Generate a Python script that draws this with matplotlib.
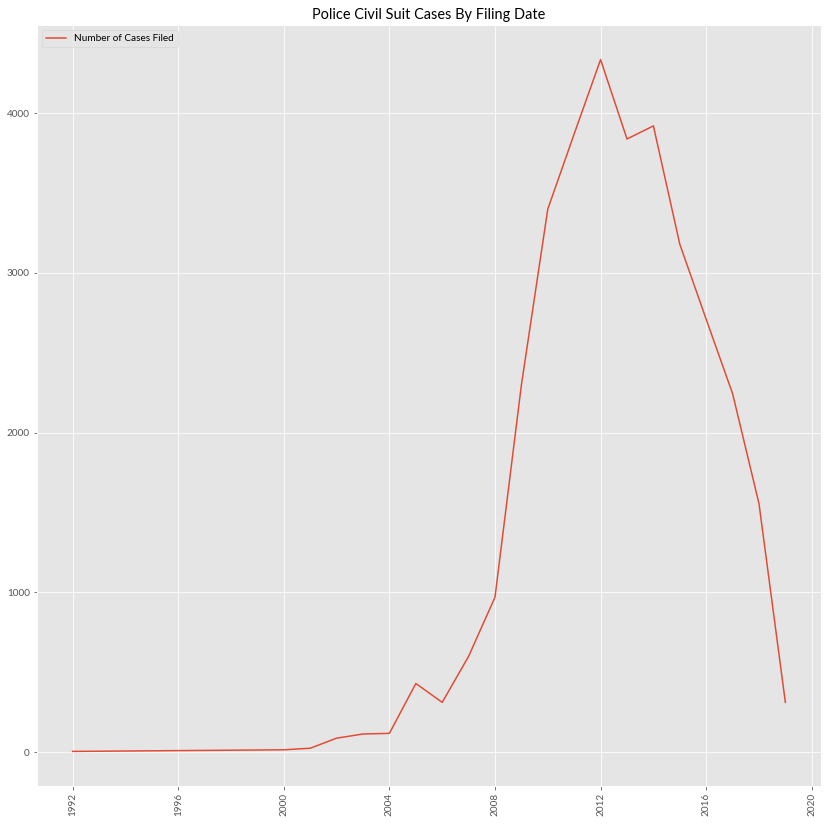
import matplotlib
matplotlib.use('Agg')
import matplotlib.pyplot as plt
import pandas as pd

plt.style.use('ggplot')
plt.rcParams['font.family'] = ['Lato', 'DejaVu Sans']

# yearly counts of filed cases
years = [1992, 2000, 2001, 2002, 2003, 2004, 2005, 2006, 2007, 2008, 2009,
         2010, 2011, 2012, 2013, 2014, 2015, 2016, 2017, 2018, 2019]
cases = [5, 15, 25, 88, 114, 118, 430, 312, 600, 970, 2300,
         3400, 3870, 4335, 3838, 3920, 3180, 2710, 2244, 1556, 312]

dates = pd.to_datetime([str(y) for y in years])

fig = plt.figure(figsize=(827 / 72, 825 / 72), dpi=72)
ax = fig.add_axes([37 / 827, 1 - 786 / 825, (821 - 37) / 827, (786 - 25) / 825])
ax.plot(dates, cases, label='Number of Cases Filed', color='#E24A33', linewidth=1.5)
ax.set_title('Police Civil Suit Cases By Filing Date', fontsize=14.5)
ax.legend(loc='upper left', fontsize=10)
plt.setp(ax.get_xticklabels(), rotation=90)
ax.tick_params(labelsize=10)

fig.savefig('out.png', dpi=72)
